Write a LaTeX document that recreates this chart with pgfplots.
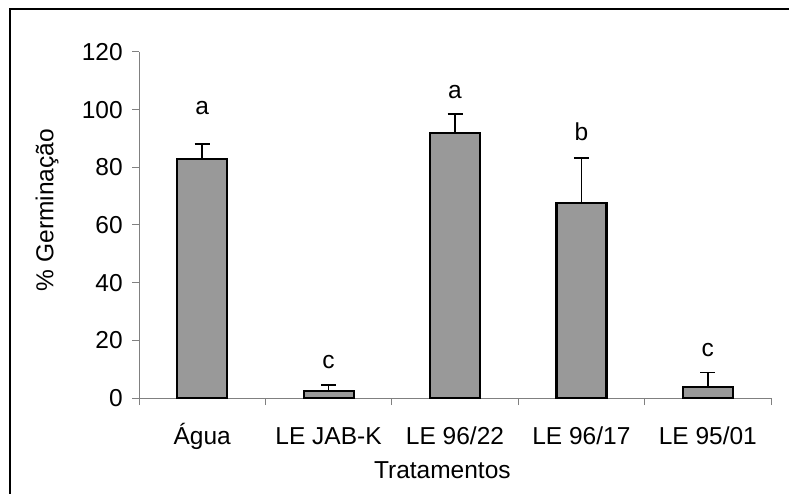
\documentclass[border=0pt]{standalone}
\usepackage{fontspec}
\setmainfont{Liberation Sans}
\usepackage{pgfplots}
\pgfplotsset{compat=1.18}
\definecolor{barfill}{RGB}{153,153,153}
\definecolor{axisgray}{RGB}{128,128,128}
\newcommand{\chartfont}{\fontsize{24.5bp}{29bp}\selectfont}

% Germination (%) per treatment, with the upper error
\pgfplotstableread{
x  y     e
0  83.0  5.0
1  2.4   2.1
2  92.0  6.4
3  67.7  15.5
4  3.9   4.9
}\germdata

\begin{document}
\begin{tikzpicture}[font=\chartfont]
\useasboundingbox (0,0) rectangle (789bp,494bp);
% chart frame
\draw[line width=1.5bp] (10bp,0) -- (10bp,485bp) -- (789bp,485bp);
\begin{axis}[
  at={(139bp,96bp)}, anchor=south west,
  scale only axis, width=632bp, height=346bp,
  xmin=-0.5, xmax=4.5, ymin=0, ymax=120,
  axis x line=bottom, axis y line=left,
  axis line style={-, draw=axisgray, line width=1bp},
  clip=false,
  tick align=outside,
  major tick length=7bp, minor tick length=7bp,
  ytick={0,20,...,120},
  xtick={0,1,2,3,4},
  xticklabels={Água, LE JAB-K, LE 96/22, LE 96/17, LE 95/01},
  minor xtick={-0.5,0.5,1.5,2.5,3.5,4.5},
  every major x tick/.append style={draw=none},
  every tick/.append style={draw=axisgray, line width=1bp},
  tick label style={font=\chartfont},
  label style={font=\chartfont},
  xticklabel style={anchor=base, yshift=-39bp},
  yticklabel style={xshift=-5.8bp},
  /pgf/number format/assume math mode=true,
  xlabel={Tratamentos},
  ylabel={\% Germinação},
  xlabel style={at={(axis description cs:0.480,-0.208)}, anchor=center},
  ylabel style={at={(axis description cs:-0.1456,0.543)}, anchor=center},
]
\addplot[ybar, bar width=50bp, bar shift=0pt, fill=barfill, draw=black, line width=2.2bp,
  error bars/.cd, y dir=plus, y explicit,
  error mark=|,
  error bar style={line width=1.6bp, black},
  error mark options={line width=1.6bp, mark size=7.5bp, black}]
  table[x=x, y=y, y error=e] {\germdata};
% significance letters
\node[font=\chartfont] at (axis cs:0,100.4) {a};
\node[font=\chartfont] at (axis cs:1,12.6) {c};
\node[font=\chartfont] at (axis cs:2,106.2) {a};
\node[font=\chartfont] at (axis cs:3,92.3) {b};
\node[font=\chartfont] at (axis cs:4,16.6) {c};
\end{axis}
\end{tikzpicture}
\end{document}
